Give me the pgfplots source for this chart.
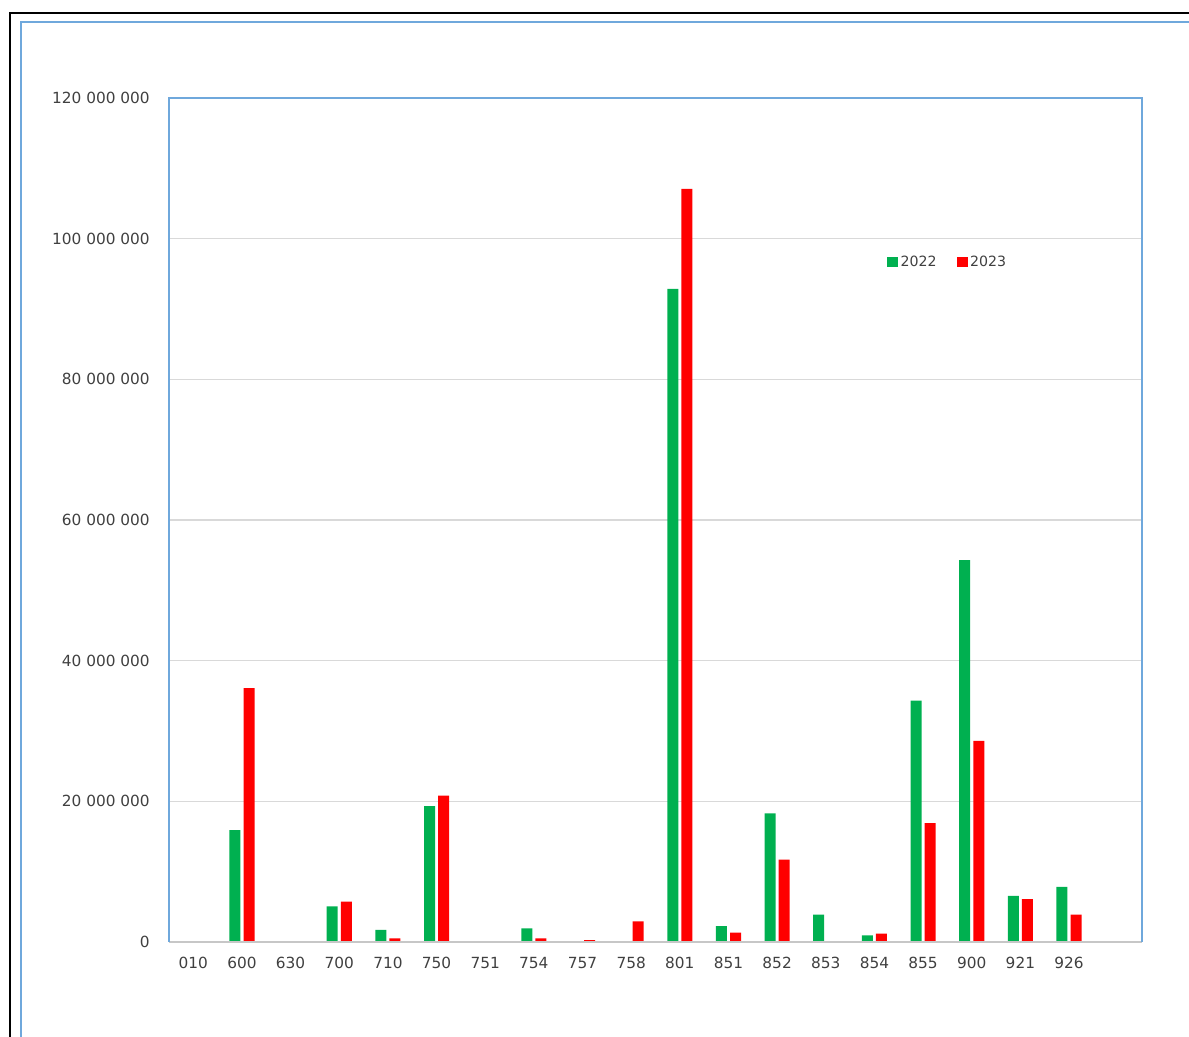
\documentclass[border=0pt]{standalone}
\usepackage{pgfplots}
\pgfplotsset{compat=1.18}
\usepackage{fontspec}
\setmainfont{DejaVu Sans}

\definecolor{barGreen}{HTML}{00B050}
\definecolor{barRed}{HTML}{FF0000}
\definecolor{frameBlue}{HTML}{6FA8DC}
\definecolor{gridGray}{HTML}{D9D9D9}
\definecolor{txt}{HTML}{404040}

% values (20 slots, last one empty)
\pgfplotstableread{
x y2022 y2023
0  0        0
1  15900000 36100000
2  0        0
3  5080000  5730000
4  1710000  520000
5  19300000 20800000
6  0        0
7  1940000  520000
8  140000   280000
9  0        2940000
10 92850000 107070000
11 2270000  1330000
12 18300000 11700000
13 3890000  0
14 950000   1190000
15 34300000 16900000
16 54300000 28600000
17 6540000  6110000
18 7820000  3890000
}\datatable

\begin{document}
\begin{tikzpicture}
\useasboundingbox (0,0) rectangle (891.75pt,777.75pt);
% outer frames
\draw[black, line width=1.5pt] (7.5pt,0) -- (7.5pt,768pt) -- (891.75pt,768pt);
\draw[frameBlue, line width=1.5pt] (15.75pt,0) -- (15.75pt,761.25pt) -- (891.75pt,761.25pt);

\begin{axis}[
    at={(126.75pt,71.25pt)}, anchor=south west,
    width=729.75pt, height=633pt, scale only axis,
    ymin=0, ymax=120000000,
    xmin=-0.5, xmax=19.5,
    scaled y ticks=false,
    ytick={0,20000000,40000000,60000000,80000000,100000000,120000000},
    yticklabels={0,20 000 000,40 000 000,60 000 000,80 000 000,100 000 000,120 000 000},
    xtick={0,...,18},
    xticklabels={010,600,630,700,710,750,751,754,757,758,801,851,852,853,854,855,900,921,926},
    major tick length=0pt,
    ymajorgrids, grid style={gridGray, line width=0.9pt},
    axis line style={draw=none},
    tick label style={font=\fontsize{11.5}{13}\selectfont, text=txt},
    yticklabel style={anchor=east, inner sep=0pt, xshift=-14.25pt},
    xticklabel style={anchor=north, inner sep=0pt, yshift=-11pt},
    ybar, bar width=8.25pt,
    legend style={draw=none, fill=none, at={(0.8005,0.8057)}, anchor=center,
        font=\fontsize{10.6}{12}\selectfont, text=txt,
        /tikz/every even column/.append style={column sep=13pt}},
    legend columns=2,
    legend image code/.code={\fill (0pt,-4.1pt) rectangle (8.25pt,4.1pt);},
    clip=false,
]
\addplot[fill=barGreen, draw=none, bar shift=-5.3pt] table[x=x, y=y2022] {\datatable};
\addlegendentry{2022}
\addplot[fill=barRed, draw=none, bar shift=5.3pt] table[x=x, y=y2023] {\datatable};
\addlegendentry{2023}
\draw[gridGray!80!gray, line width=1.5pt] (rel axis cs:0,0) -- (rel axis cs:1,0);
\draw[frameBlue, line width=1.2pt] (rel axis cs:0,0) -- (rel axis cs:0,1) -- (rel axis cs:1,1) -- (rel axis cs:1,0);
\end{axis}
\end{tikzpicture}
\end{document}
